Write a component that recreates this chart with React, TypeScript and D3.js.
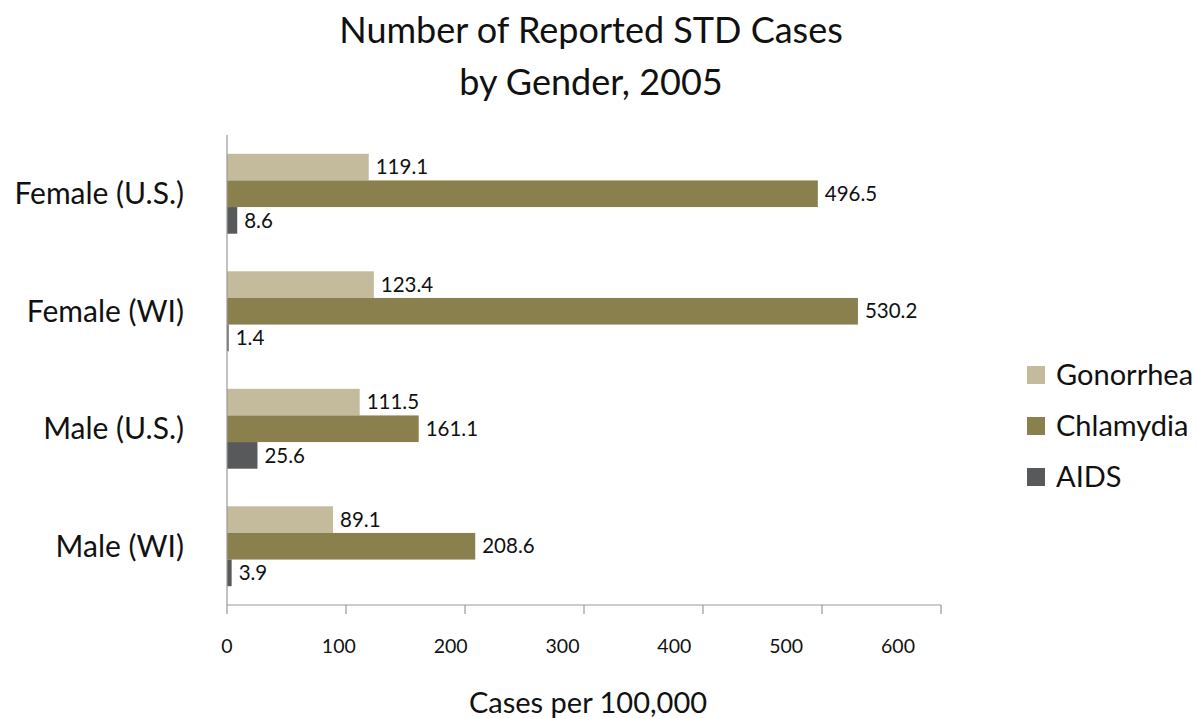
import * as React from "react";
import * as d3 from "d3";

const categories = ["Female (U.S.)", "Female (WI)", "Male (U.S.)", "Male (WI)"];
const seriesNames = ["Gonorrhea", "Chlamydia", "AIDS"];
const gonorrhea = [119.1, 123.4, 111.5, 89.1];
const chlamydia = [496.5, 530.2, 161.1, 208.6];
const aids = [8.6, 1.4, 25.6, 3.9];
const xTickValues = [0, 100, 200, 300, 400, 500, 600];
const colors = ["#c4bb9c", "#8a804e", "#58595b"];

const font = "Lato, 'Open Sans', sans-serif";

export default function App() {
  const width = 1197;
  const height = 718;
  const margin = { top: 135, left: 227, right: 256, bottom: 113 };
  const innerW = width - margin.left - margin.right;
  const innerH = height - margin.top - margin.bottom;

  const values = [gonorrhea, chlamydia, aids];

  const xScale = d3.scaleLinear().domain([0, 600]).range([0, innerW]);
  // the tick labels in the original sit on a slightly tighter spacing than the ticks
  const labelScale = d3.scaleLinear().domain([0, 600]).range([0, 671]);
  const yScale = d3
    .scaleBand<string>()
    .domain(categories)
    .range([0, innerH])
    .paddingInner(0.32)
    .paddingOuter(0.16);
  const subScale = d3
    .scaleBand<string>()
    .domain(seriesNames)
    .range([0, yScale.bandwidth()]);

  return (
    <svg width={width} height={height} style={{ position: "absolute", left: 0, top: 0 }}>
      <g fontFamily={font} fill="#111" fontSize={36} textAnchor="middle">
        <text x={591} y={43}>Number of Reported STD Cases</text>
        <text x={591} y={95}>by Gender, 2005</text>
      </g>
      <g transform={`translate(${margin.left}, ${margin.top})`}>
        {categories.map((cat, ci) => (
          <g key={cat} transform={`translate(0, ${yScale(cat)})`}>
            {seriesNames.map((s, si) => {
              const v = values[si][ci];
              const y = subScale(s) ?? 0;
              return (
                <g key={s}>
                  <rect
                    x={0}
                    y={y}
                    width={xScale(v)}
                    height={subScale.bandwidth()}
                    fill={colors[si]}
                  />
                  <text
                    x={xScale(v) + 7}
                    y={y + subScale.bandwidth() / 2}
                    dy="0.35em"
                    fontSize={20.5}
                    fontFamily={font}
                    fill="#111"
                  >
                    {v.toFixed(1)}
                  </text>
                </g>
              );
            })}
            <text
              x={-43}
              y={yScale.bandwidth() / 2}
              dy="0.35em"
              textAnchor="end"
              fontSize={30}
              fontFamily={font}
              fill="#111"
            >
              {cat}
            </text>
          </g>
        ))}
        <line x1={0} x2={0} y1={0} y2={innerH} stroke="#999" strokeWidth={1.2} />
        <g transform={`translate(0, ${innerH})`}>
          <line x1={0} x2={innerW} stroke="#999" strokeWidth={1.2} />
          {xTickValues.map((t) => (
            <g key={t}>
              <line x1={xScale(t)} x2={xScale(t)} y2={9} stroke="#999" strokeWidth={1.2} />
              <text
                x={labelScale(t)}
                y={41}
                dy="0.35em"
                textAnchor="middle"
                fontSize={19.5}
                fontFamily={font}
                fill="#111"
              >
                {t}
              </text>
            </g>
          ))}
          <text
            x={361}
            y={98}
            dy="0.35em"
            textAnchor="middle"
            fontSize={29}
            fontFamily={font}
            fill="#111"
          >
            Cases per 100,000
          </text>
        </g>
      </g>
      <g transform="translate(1027, 366)">
        {seriesNames.map((s, i) => (
          <g key={s} transform={`translate(0, ${i * 51})`}>
            <rect width={18} height={18} fill={colors[i]} />
            <text x={29} y={9} dy="0.35em" fontSize={29} fontFamily={font} fill="#111">
              {s}
            </text>
          </g>
        ))}
      </g>
    </svg>
  );
}
